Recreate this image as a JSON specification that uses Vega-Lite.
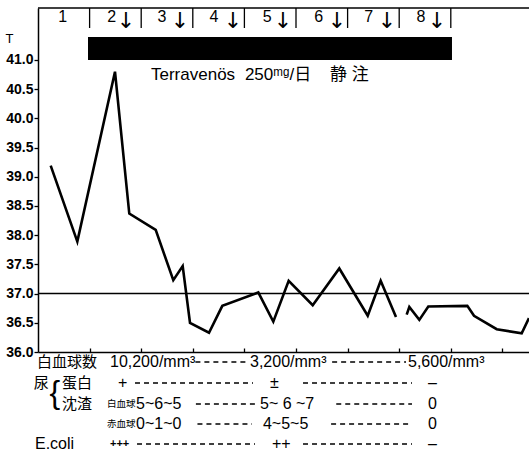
{
  "$schema": "https://vega.github.io/schema/vega-lite/v6.json",
  "width": 491,
  "height": 344,
  "autosize": "none",
  "padding": {"left": 38, "top": 8, "right": 0, "bottom": 103},
  "background": "white",
  "config": {
    "view": {"stroke": null},
    "axis": {"domainColor": "black", "domainWidth": 1.5, "tickColor": "black", "tickWidth": 1.3, "labelColor": "black", "titleColor": "black", "grid": false}
  },
  "datasets": {
    "temp": [
      {"d": 0.246, "t": 39.19, "s": 1},
      {"d": 0.762, "t": 37.89, "s": 1},
      {"d": 1.492, "t": 40.80, "s": 1},
      {"d": 1.769, "t": 38.37, "s": 1},
      {"d": 2.281, "t": 38.09, "s": 1},
      {"d": 2.622, "t": 37.23, "s": 1},
      {"d": 2.804, "t": 37.47, "s": 1},
      {"d": 2.946, "t": 36.50, "s": 1},
      {"d": 3.314, "t": 36.33, "s": 1},
      {"d": 3.572, "t": 36.79, "s": 1},
      {"d": 4.269, "t": 37.02, "s": 1},
      {"d": 4.560, "t": 36.52, "s": 1},
      {"d": 4.858, "t": 37.22, "s": 1},
      {"d": 5.324, "t": 36.80, "s": 1},
      {"d": 5.839, "t": 37.43, "s": 1},
      {"d": 6.390, "t": 36.62, "s": 1},
      {"d": 6.641, "t": 37.22, "s": 1},
      {"d": 6.938, "t": 36.60, "s": 1},
      {"d": 7.145, "t": 36.64, "s": 2},
      {"d": 7.196, "t": 36.77, "s": 2},
      {"d": 7.390, "t": 36.55, "s": 2},
      {"d": 7.564, "t": 36.78, "s": 2},
      {"d": 8.320, "t": 36.79, "s": 2},
      {"d": 8.450, "t": 36.62, "s": 2},
      {"d": 8.890, "t": 36.39, "s": 2},
      {"d": 9.374, "t": 36.32, "s": 2},
      {"d": 9.515, "t": 36.58, "s": 2}
    ],
    "frame": [
      {"d": 0, "d2": 9.5155, "t": 37},
      {"d": 0, "d2": 9.5155, "t": 41.89}
    ],
    "days": [
      {"d": 0.48, "t": 41.736, "label": "1"},
      {"d": 1.43, "t": 41.736, "label": "2"},
      {"d": 2.40, "t": 41.736, "label": "3"},
      {"d": 3.41, "t": 41.736, "label": "4"},
      {"d": 4.44, "t": 41.736, "label": "5"},
      {"d": 5.44, "t": 41.736, "label": "6"},
      {"d": 6.41, "t": 41.736, "label": "7"},
      {"d": 7.42, "t": 41.736, "label": "8"}
    ],
    "arrows": [
      {"d": 1.705, "t": 41.668, "label": "↓"},
      {"d": 2.752, "t": 41.668, "label": "↓"},
      {"d": 3.779, "t": 41.668, "label": "↓"},
      {"d": 4.748, "t": 41.668, "label": "↓"},
      {"d": 5.795, "t": 41.668, "label": "↓"},
      {"d": 6.764, "t": 41.668, "label": "↓"},
      {"d": 7.733, "t": 41.668, "label": "↓"}
    ],
    "separators": [
      {"d": 1, "t": 41.89, "t2": 41.548},
      {"d": 2, "t": 41.89, "t2": 41.548},
      {"d": 3, "t": 41.89, "t2": 41.548},
      {"d": 4, "t": 41.89, "t2": 41.548},
      {"d": 5, "t": 41.89, "t2": 41.548},
      {"d": 6, "t": 41.89, "t2": 41.548},
      {"d": 7, "t": 41.89, "t2": 41.548},
      {"d": 8, "t": 41.89, "t2": 41.548}
    ],
    "bar": [
      {"d": 0.969, "d2": 8.023, "t": 41.394, "t2": 41.0}
    ],
    "drug": [
      {"d": 2.19, "t": 40.743, "label": "Terravenös"},
      {"d": 4.01, "t": 40.743, "label": "250ᵐᵍ/日"},
      {"d": 5.66, "t": 40.743, "label": "静"},
      {"d": 6.08, "t": 40.743, "label": "注"}
    ],
    "latin": [
      {"d": 1.395, "t": 35.829, "label": "10,200/mm³"},
      {"d": 4.109, "t": 35.829, "label": "3,200/mm³"},
      {"d": 7.171, "t": 35.829, "label": "5,600/mm³"},
      {"d": 1.55, "t": 35.469, "label": "+"},
      {"d": 4.496, "t": 35.469, "label": "±"},
      {"d": 7.558, "t": 35.469, "label": "–"},
      {"d": 1.90, "t": 35.11, "label": "5~6~5"},
      {"d": 4.302, "t": 35.11, "label": "5~ 6 ~7"},
      {"d": 7.558, "t": 35.11, "label": "0"},
      {"d": 1.90, "t": 34.767, "label": "0~1~0"},
      {"d": 4.36, "t": 34.767, "label": "4~5~5"},
      {"d": 7.558, "t": 34.767, "label": "0"},
      {"d": -0.058, "t": 34.425, "label": "E.coli"},
      {"d": 4.535, "t": 34.425, "label": "++"},
      {"d": 7.558, "t": 34.425, "label": "–"}
    ],
    "small": [
      {"d": 1.395, "t": 34.425, "label": "+++"}
    ],
    "cjk": [
      {"d": -0.019, "t": 35.829, "label": "白血球数"},
      {"d": -0.08, "t": 35.469, "label": "尿"},
      {"d": 0.465, "t": 35.469, "label": "蛋白"},
      {"d": 0.465, "t": 35.11, "label": "沈渣"}
    ],
    "cjksmall": [
      {"d": 1.337, "t": 35.11, "label": "白血球"},
      {"d": 1.337, "t": 34.767, "label": "赤血球"}
    ],
    "brace": [
      {"d": 0.225, "t": 35.29, "label": "{"}
    ],
    "dashes": [
      {"d": 3.05, "d2": 4.07, "t": 35.829},
      {"d": 5.7, "d2": 7.132, "t": 35.829},
      {"d": 1.88, "d2": 4.167, "t": 35.469},
      {"d": 5.136, "d2": 7.248, "t": 35.469},
      {"d": 3.06, "d2": 4.264, "t": 35.11},
      {"d": 5.78, "d2": 7.248, "t": 35.11},
      {"d": 3.09, "d2": 4.147, "t": 34.767},
      {"d": 5.68, "d2": 7.209, "t": 34.767},
      {"d": 1.919, "d2": 4.205, "t": 34.425},
      {"d": 5.136, "d2": 7.248, "t": 34.425}
    ]
  },
  "encoding": {
    "x": {"field": "d", "type": "quantitative", "scale": {"domain": [0, 9.5155], "nice": false, "zero": false},
          "axis": {"title": null, "values": [1, 2, 3, 4, 5, 6, 7, 8, 9], "labels": false, "tickSize": -4, "domain": true}},
    "y": {"field": "t", "type": "quantitative", "scale": {"domain": [36, 41.89], "nice": false, "zero": false},
          "axis": {"title": "T", "titleAngle": 0, "titleX": -29, "titleY": 30, "titleAlign": "center", "titleBaseline": "middle",
                   "titleFont": "Liberation Sans", "titleFontSize": 13, "titleFontWeight": "normal",
                   "values": [36, 36.5, 37, 37.5, 38, 38.5, 39, 39.5, 40, 40.5, 41], "format": ".1f",
                   "labelOverlap": false, "labelFont": "Liberation Sans", "labelFontSize": 14, "labelFontWeight": "bold",
                   "labelPadding": 1, "tickSize": 4}}
  },
  "layer": [
    {
      "data": {"name": "temp"},
      "mark": {"type": "line", "color": "black", "strokeWidth": 2.6, "strokeJoin": "miter"},
      "encoding": {"detail": {"field": "s", "type": "nominal"}}
    },
    {
      "data": {"name": "frame"},
      "mark": {"type": "rule", "color": "black", "strokeWidth": 1.5},
      "encoding": {"x2": {"field": "d2"}}
    },
    {
      "data": {"name": "separators"},
      "mark": {"type": "rule", "color": "black", "strokeWidth": 1.3},
      "encoding": {"y2": {"field": "t2"}}
    },
    {
      "data": {"name": "bar"},
      "mark": {"type": "rect", "color": "black"},
      "encoding": {"x2": {"field": "d2"}, "y2": {"field": "t2"}}
    },
    {
      "data": {"name": "days"},
      "mark": {"type": "text", "color": "black", "font": "Liberation Sans", "fontSize": 16, "align": "center", "baseline": "middle"},
      "encoding": {"text": {"field": "label"}}
    },
    {
      "data": {"name": "arrows"},
      "mark": {"type": "text", "color": "black", "font": "DejaVu Sans", "fontSize": 22, "align": "center", "baseline": "middle"},
      "encoding": {"text": {"field": "label"}}
    },
    {
      "data": {"name": "drug"},
      "mark": {"type": "text", "color": "black", "font": "Liberation Sans, Noto Sans CJK JP", "fontSize": 17, "align": "left", "baseline": "middle"},
      "encoding": {"text": {"field": "label"}}
    },
    {
      "data": {"name": "latin"},
      "mark": {"type": "text", "color": "black", "font": "Liberation Sans", "fontSize": 16, "align": "left", "baseline": "middle"},
      "encoding": {"text": {"field": "label"}}
    },
    {
      "data": {"name": "small"},
      "mark": {"type": "text", "color": "black", "font": "Liberation Sans", "fontSize": 11, "fontWeight": "bold", "align": "left", "baseline": "middle"},
      "encoding": {"text": {"field": "label"}}
    },
    {
      "data": {"name": "cjk"},
      "mark": {"type": "text", "color": "black", "font": "Noto Sans CJK JP", "fontSize": 15, "align": "left", "baseline": "middle"},
      "encoding": {"text": {"field": "label"}}
    },
    {
      "data": {"name": "cjksmall"},
      "mark": {"type": "text", "color": "black", "font": "Noto Sans CJK JP", "fontSize": 9.5, "align": "left", "baseline": "middle"},
      "encoding": {"text": {"field": "label"}}
    },
    {
      "data": {"name": "brace"},
      "mark": {"type": "text", "color": "black", "font": "Liberation Sans", "fontSize": 32, "align": "left", "baseline": "middle"},
      "encoding": {"text": {"field": "label"}}
    },
    {
      "data": {"name": "dashes"},
      "mark": {"type": "rule", "color": "black", "strokeWidth": 1.3, "strokeDash": [5, 4]},
      "encoding": {"x2": {"field": "d2"}}
    }
  ]
}
